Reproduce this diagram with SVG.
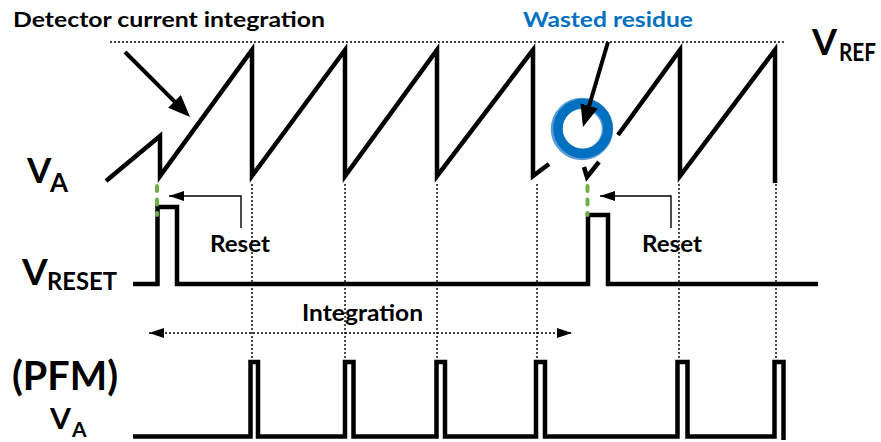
<svg xmlns="http://www.w3.org/2000/svg" width="881" height="442" viewBox="0 0 881 442">
<style>
  text { font-family: Lato, "Liberation Sans", sans-serif; font-weight: bold; fill: #000; }
  .wave { fill: none; stroke: #000; stroke-width: 4.5; stroke-linejoin: miter; stroke-miterlimit: 10; }
  .dot { fill: none; stroke: #000; stroke-width: 1.4; stroke-dasharray: 2 2; }
  .thin { fill: none; stroke: #000; stroke-width: 1.4; }
  .thick { fill: none; stroke: #000; stroke-width: 4; }
  .green { fill: none; stroke: #70AD47; stroke-width: 4; stroke-linecap: round; stroke-dasharray: 5 8.5; }
</style>
<defs>
  <marker id="bigHead" markerUnits="userSpaceOnUse" markerWidth="24" markerHeight="20" refX="2" refY="9" orient="auto">
    <path d="M0,0 L22,9 L0,18 z" fill="#000"/>
  </marker>
  <marker id="smallHead" markerUnits="userSpaceOnUse" markerWidth="16" markerHeight="12" refX="15" refY="5" orient="auto-start-reverse">
    <path d="M0,0 L15,5 L0,10 z" fill="#000"/>
  </marker>
</defs>

<g id="vref-line">
  <line class="dot" x1="110" y1="42" x2="785" y2="42"/>
</g>

<g id="guides">
  <line class="dot" x1="252" y1="184" x2="252" y2="360"/>
  <line class="dot" x1="345" y1="184" x2="345" y2="360"/>
  <line class="dot" x1="437" y1="184" x2="437" y2="360"/>
  <line class="dot" x1="537" y1="184" x2="537" y2="360"/>
  <line class="dot" x1="679" y1="184" x2="679" y2="360"/>
  <line class="dot" x1="776" y1="184" x2="776" y2="360"/>
</g>

<g id="va-wave">
  <polyline class="wave" points="106,181 160,136 160,176 252,50 252,176 345,50 345,176 437,50 437,176 533,50 533,176 549,164"/>
  <polyline class="wave" points="584,167 587,177 599,162"/>
  <polyline class="wave" points="618,135 680,50 680,176 775,50 775,183"/>
</g>

<g id="reset-wave">
  <polyline class="wave" points="133,284 157.5,284 157.5,207 177,207 177,284 588,284 588,215 608,215 608,284 818,284"/>
  <line class="green" x1="157" y1="186" x2="157" y2="215"/>
  <line class="green" x1="587.5" y1="186" x2="587.5" y2="215"/>
</g>

<g id="pfm-wave">
  <path class="wave" d="M133,436.5 H250.5 V362 H258 V436.5 H345 V362 H353.5 V436.5 H436.5 V362 H445 V436.5 H536 V362 H545 V436.5 H677.5 V362 H687.5 V436.5 H774.5 V362 H783.5 V440"/>
</g>

<g id="residue-ring">
  <circle cx="582" cy="129" r="25.5" fill="#fff" stroke="#5B9BD5" stroke-width="11.5"/>
  <circle cx="583" cy="128.5" r="25" fill="none" stroke="#0070C0" stroke-width="9.5"/>
</g>

<g id="connectors">
  <line class="thick" x1="125" y1="52" x2="175.9" y2="102.9" marker-end="url(#bigHead)"/>
  <line class="thick" x1="608" y1="42" x2="588.6" y2="107.8" marker-end="url(#bigHead)"/>
  <path class="thin" d="M241,228 V196 H169" marker-end="url(#smallHead)"/>
  <path class="thin" d="M671,228 V196 H600" marker-end="url(#smallHead)"/>
  <line class="dot" x1="149" y1="333" x2="572" y2="333" marker-start="url(#smallHead)" marker-end="url(#smallHead)"/>
</g>

<g id="label-detector">
  <text x="13" y="27" font-size="21" textLength="312" lengthAdjust="spacingAndGlyphs">Detector current integration</text>
</g>
<g id="label-wasted">
  <text x="523" y="27" font-size="21" style="fill:#0070C0" textLength="170" lengthAdjust="spacingAndGlyphs">Wasted residue</text>
</g>
<g id="label-vref">
  <text x="812" y="55" font-size="36">V</text>
  <text x="839" y="61" font-size="24" textLength="37" lengthAdjust="spacingAndGlyphs">REF</text>
</g>
<g id="label-va">
  <text x="27" y="183" font-size="35">V</text>
  <text x="50" y="192" font-size="26">A</text>
</g>
<g id="label-vreset">
  <text x="22" y="285" font-size="37">V</text>
  <text x="47" y="290" font-size="24" textLength="70" lengthAdjust="spacingAndGlyphs">RESET</text>
</g>
<g id="label-reset1">
  <text x="210" y="252" font-size="22" textLength="60" lengthAdjust="spacingAndGlyphs">Reset</text>
</g>
<g id="label-reset2">
  <text x="642" y="252" font-size="22" textLength="60" lengthAdjust="spacingAndGlyphs">Reset</text>
</g>
<g id="label-integration">
  <text x="302" y="321" font-size="22" textLength="121" lengthAdjust="spacingAndGlyphs">Integration</text>
</g>
<g id="label-pfm">
  <text x="12" y="390" font-size="40" textLength="106" lengthAdjust="spacingAndGlyphs">(PFM)</text>
  <text x="50" y="429" font-size="28" textLength="21" lengthAdjust="spacingAndGlyphs">V</text>
  <text x="72" y="437" font-size="21">A</text>
</g>
</svg>
